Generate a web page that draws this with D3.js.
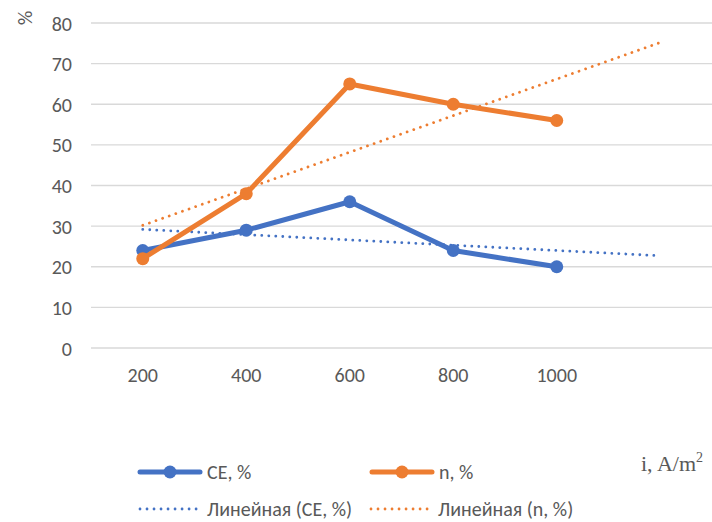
<!DOCTYPE html>
<html><head><meta charset="utf-8">
<script src="https://cdn.jsdelivr.net/npm/d3@7"></script>
<style>body{margin:0;background:#fff}svg{display:block}</style>
</head><body><svg id="c" width="712" height="522"></svg>
<script>
const categories = ["200","400","600","800","1000"];
const ceValues = [24, 29, 36, 24, 20];
const nValues = [22, 38, 65, 60, 56];
const yTicks = [0,10,20,30,40,50,60,70,80];
const seriesNames = ["CE, %", "n, %"];
const trendNames = ["Линейная (CE, %)", "Линейная (n, %)"];

const svg = d3.select("#c");
const font = "Carlito, Lato, 'Liberation Sans', sans-serif";
const fs = 20;
const blue = "#4472C4", orange = "#ED7D31";
const slots = categories.concat([""]); // forward forecast slot
const x = d3.scaleBand().domain(d3.range(slots.length)).range([91, 712]);
const y = d3.scaleLinear().domain([0, 80]).range([348, 23]);
const cx = i => x(i) + x.bandwidth()/2;

// grid
svg.append("g").selectAll("line").data(yTicks).join("line")
  .attr("x1", 91).attr("x2", 712).attr("y1", d=>y(d)).attr("y2", d=>y(d))
  .attr("stroke", "#d9d9d9").attr("stroke-width", 1.3);

// y axis labels
const yAxis = d3.axisLeft(y).tickValues(yTicks).tickSize(0).tickPadding(0);
const gy = svg.append("g").attr("transform", "translate(72,0)").call(yAxis);
gy.select(".domain").remove();
gy.selectAll("text").attr("font-family", font).attr("font-size", fs).attr("fill", "#595959").attr("dy","0.35em");

// x axis labels
const xAxis = d3.axisBottom(x).tickFormat(i => slots[i]).tickSize(0).tickPadding(0);
const gx = svg.append("g").attr("transform", "translate(0,368)").call(xAxis);
gx.select(".domain").remove();
gx.selectAll("text").attr("font-family", font).attr("font-size", fs).attr("fill", "#595959").attr("dy","0.71em");

// trendlines (least squares, extended one period forward)
function fit(vals){
  const n = vals.length, xs = d3.range(1, n+1);
  const mx = d3.mean(xs), my = d3.mean(vals);
  const b = d3.sum(xs.map((xi,i)=>(xi-mx)*(vals[i]-my))) / d3.sum(xs.map(xi=>(xi-mx)**2));
  const a = my - b*mx;
  return [[0, a + b*1], [n, a + b*(n+1)]];
}
const line = d3.line().x(d=>cx(d[0])).y(d=>y(d[1]));
[[ceValues, blue],[nValues, orange]].forEach(([v,c])=>{
  svg.append("path").attr("d", line(fit(v))).attr("fill","none").attr("stroke", c)
    .attr("stroke-width", 2.8).attr("stroke-linecap","round").attr("stroke-dasharray","0.01 7");
});

// series
[[ceValues, blue],[nValues, orange]].forEach(([v,c])=>{
  const pts = v.map((d,i)=>[i,d]);
  svg.append("path").attr("d", line(pts)).attr("fill","none").attr("stroke", c)
    .attr("stroke-width", 5).attr("stroke-linejoin","round").attr("stroke-linecap","round");
  svg.append("g").selectAll("circle").data(pts).join("circle")
    .attr("cx", d=>cx(d[0])).attr("cy", d=>y(d[1])).attr("r", 6.5).attr("fill", c);
});

// y title
svg.append("text").attr("transform","translate(11,18) rotate(90)").attr("text-anchor","middle")
  .attr("dy","-0.35em")
  .attr("font-family", font).attr("font-size", fs).attr("fill","#595959").text("%");

// x title
const xt = svg.append("text").attr("x", 641).attr("y", 471).attr("font-family","'Liberation Serif', 'Times New Roman', serif")
  .attr("font-size", 22).attr("fill","#595959");
xt.append("tspan").text("i, A/m");
xt.append("tspan").attr("font-size", 14).attr("dy", -9).text("2");

// legend
const leg = [
  {x:138, y:472, c:blue, t:seriesNames[0], dot:false},
  {x:370, y:472, c:orange, t:seriesNames[1], dot:false},
  {x:138, y:509, c:blue, t:trendNames[0], dot:true},
  {x:369, y:509, c:orange, t:trendNames[1], dot:true}
];
leg.forEach(L=>{
  const g = svg.append("g");
  if (L.dot) {
    g.append("line").attr("x1", L.x+2).attr("x2", L.x+64).attr("y1", L.y).attr("y2", L.y)
      .attr("stroke", L.c).attr("stroke-width", 2.8).attr("stroke-linecap","round").attr("stroke-dasharray","0.01 7");
  } else {
    g.append("line").attr("x1", L.x+2).attr("x2", L.x+62).attr("y1", L.y).attr("y2", L.y)
      .attr("stroke", L.c).attr("stroke-width", 5).attr("stroke-linecap","round");
    g.append("circle").attr("cx", L.x+32).attr("cy", L.y).attr("r", 6.5).attr("fill", L.c);
  }
  g.append("text").attr("x", L.x+69).attr("y", L.y).attr("dy","0.35em")
    .attr("font-family", font).attr("font-size", fs).attr("fill","#595959").text(L.t);
});
</script></body></html>
